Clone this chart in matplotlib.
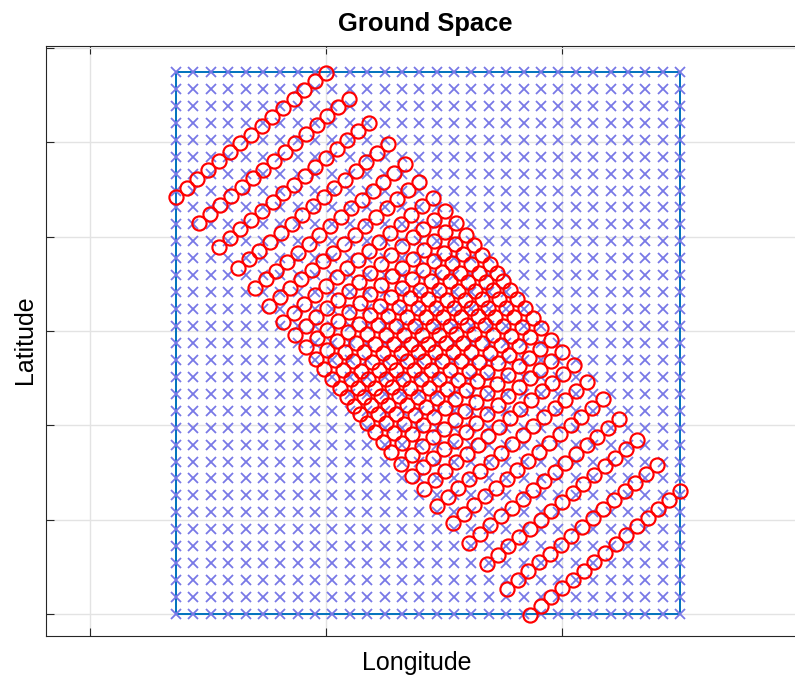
import numpy as np
import matplotlib.pyplot as plt

plt.rcParams['font.family'] = ['Liberation Sans', 'DejaVu Sans']

# ground sample grid (axis units, ticks at integers)
grid_lon = np.linspace(0.3644, 2.5, 30)
grid_lat = np.linspace(0.0, 5.746, 33)

# projected pixels: first (lower-left) circle of every scan row
row_start_lon = [0.3644, 0.4619, 0.5466, 0.6271, 0.6992, 0.7585, 0.8178, 0.8686,
                 0.9153, 0.9576, 0.9915, 1.0254, 1.0593, 1.0890, 1.1165, 1.1441,
                 1.1737, 1.2076, 1.2415, 1.2754, 1.3178, 1.3644, 1.4153, 1.4703,
                 1.5381, 1.6059, 1.6822, 1.7669, 1.8644]
row_start_lat = [4.424, 4.148, 3.894, 3.665, 3.453, 3.268, 3.099, 2.958,
                 2.827, 2.703, 2.594, 2.491, 2.393, 2.300, 2.209, 2.120,
                 2.025, 1.929, 1.823, 1.717, 1.590, 1.463, 1.325, 1.145,
                 0.965, 0.753, 0.530, 0.265, -0.011]
# step between neighbouring circles along a row
step_lon = 0.04534
step_lat = 0.0940
n_per_row = 15

x_ticks = [0, 1, 2, 3]
y_ticks = [0, 1, 2, 3, 4, 5, 6]

fig = plt.figure(figsize=(7.95, 6.84), dpi=100)
# right edge of the box sits just outside the image, like the reference
ax = fig.add_axes([46 / 795, 48 / 684, 758 / 795, 590 / 684])

# outline of the ground area
lo0, lo1 = grid_lon[0], grid_lon[-1]
la0, la1 = grid_lat[0], grid_lat[-1]
ax.plot([lo0, lo1, lo1, lo0, lo0], [la0, la0, la1, la1, la0],
        color='#0072BD', lw=1.4, zorder=2)

glon, glat = np.meshgrid(grid_lon, grid_lat)
ax.plot(glon.ravel(), glat.ravel(), 'x', color='#7878e6', ms=7.5, mew=1.3,
        zorder=3)

k = np.arange(n_per_row)
plon = np.array(row_start_lon)[:, None] + k[None, :] * step_lon
plat = np.array(row_start_lat)[:, None] + k[None, :] * step_lat
ax.plot(plon.ravel(), plat.ravel(), 'o', mfc='none', mec='#ff0000', ms=10.2,
        mew=1.55, zorder=4)

ax.set_xlim(-0.1864, 3.025)
ax.set_ylim(-0.2332, 6.0215)
ax.set_xticks(x_ticks)
ax.set_yticks(y_ticks)
ax.set_xticklabels([])
ax.set_yticklabels([])
ax.tick_params(direction='in', top=True, right=True, length=5.5, width=0.8,
               color='#262626')
ax.grid(True, color='#e3e3e3', lw=1.0)
ax.set_axisbelow(True)
for s in ax.spines.values():
    s.set_color('#262626')
    s.set_linewidth(0.8)

ax.set_title('Ground Space', fontsize=18.4, fontweight='bold', pad=11)
ax.set_xlabel('Longitude', fontsize=18, va='center')
ax.set_ylabel('Latitude', fontsize=18, va='center')
ax.xaxis.set_label_coords(371 / 758, -27 / 590)
ax.yaxis.set_label_coords(-21 / 758, 0.5 + 1 / 590)

fig.savefig('out.png', dpi=100)
